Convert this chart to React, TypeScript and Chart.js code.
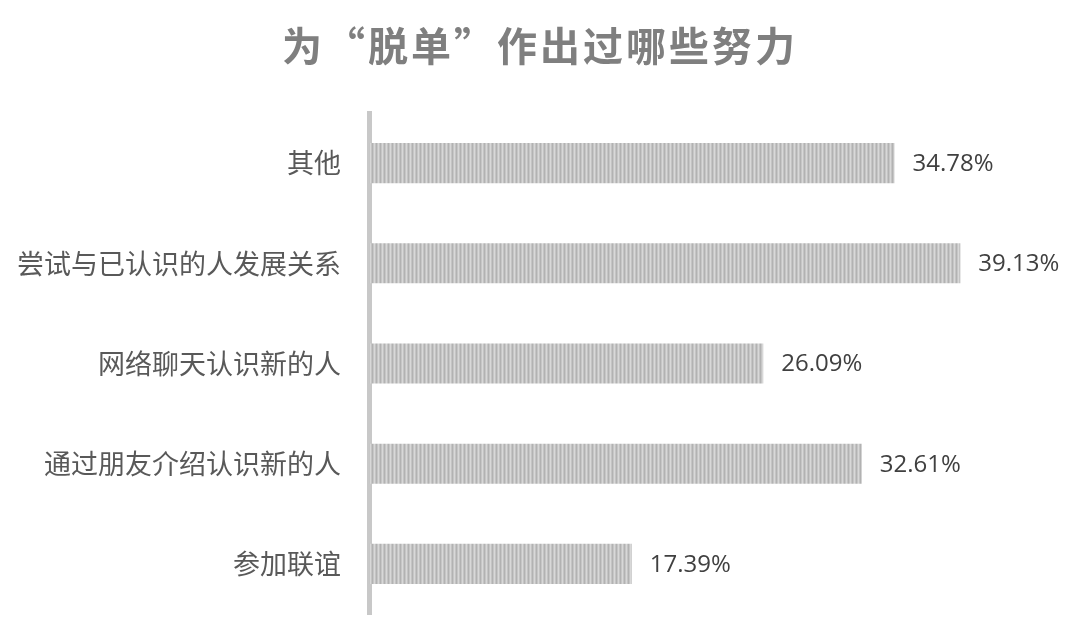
import { useEffect, useRef } from "react";
import { Chart, registerables } from "chart.js";

Chart.register(...registerables);

const titleText = "为“脱单”作出过哪些努力";
const categories = [
  "其他",
  "尝试与已认识的人发展关系",
  "网络聊天认识新的人",
  "通过朋友介绍认识新的人",
  "参加联谊",
];
const percents = [34.78, 39.13, 26.09, 32.61, 17.39];

const CJK = '"Noto Sans CJK SC", "Noto Sans", sans-serif';

function makeStripes(): CanvasPattern | string {
  const c = document.createElement("canvas");
  c.width = 4;
  c.height = 1;
  const g = c.getContext("2d");
  if (!g) return "#c0c0c0";
  const cols = ["#b2b2b2", "#c6c6c6", "#d8d8d8", "#c4c4c4"];
  cols.forEach((col, i) => {
    g.fillStyle = col;
    g.fillRect(i, 0, 1, 1);
  });
  return g.createPattern(c, "repeat") || "#c0c0c0";
}

const titlePlugin = {
  id: "spacedTitle",
  afterDraw(chart: any) {
    const ctx = chart.ctx;
    ctx.save();
    ctx.font = `bold 40px ${CJK}`;
    ctx.fillStyle = "#7f7f7f";
    ctx.textAlign = "center";
    ctx.textBaseline = "middle";
    (ctx as any).letterSpacing = "3px";
    ctx.fillText(titleText, 540, 46);
    ctx.restore();
  },
};

const valueLabels = {
  id: "valueLabels",
  afterDatasetsDraw(chart: any) {
    const ctx = chart.ctx;
    const meta = chart.getDatasetMeta(0);
    ctx.save();
    ctx.font = '24px "Open Sans", sans-serif';
    ctx.fillStyle = "#404040";
    ctx.textAlign = "left";
    ctx.textBaseline = "middle";
    meta.data.forEach((bar: any, i: number) => {
      ctx.fillText(percents[i].toFixed(2) + "%", bar.x + 18, bar.y + 1);
    });
    ctx.restore();
  },
};

export default function App() {
  const canvasRef = useRef<any>(null);

  useEffect(() => {
    if (!canvasRef.current) return;
    document.body.style.margin = "0";
    const chart = new Chart(canvasRef.current.getContext("2d"), {
      type: "bar",
      data: {
        labels: categories,
        datasets: [
          {
            data: percents,
            backgroundColor: makeStripes(),
            borderWidth: 0,
            barPercentage: 0.4,
            categoryPercentage: 1,
          },
        ],
      },
      options: {
        indexAxis: "y",
        responsive: false,
        animation: false,
        layout: { padding: { left: 0, right: 31, top: 113, bottom: 29 } },
        plugins: {
          legend: { display: false },
          title: { display: false },
          tooltip: { enabled: false },
        },
        scales: {
          x: { display: false, min: 0, max: 45 },
          y: {
            afterFit(scale: any) {
              scale.width = 369;
              // tick padding would otherwise push the plot area up from the bottom
              scale.paddingTop = 0;
              scale.paddingBottom = 0;
            },
            grid: { display: false, drawTicks: false },
            border: { display: true, color: "#c8c8c8", width: 5 },
            ticks: {
              color: "#595959",
              padding: 28,
              font: { family: CJK, size: 27 },
            },
          },
        },
      },
      plugins: [titlePlugin, valueLabels],
    } as any);
    return () => chart.destroy();
  }, []);

  return (
    <div style={{ width: 1080, height: 643, background: "#ffffff" }}>
      <canvas ref={canvasRef} width={1080} height={643} />
    </div>
  );
}
